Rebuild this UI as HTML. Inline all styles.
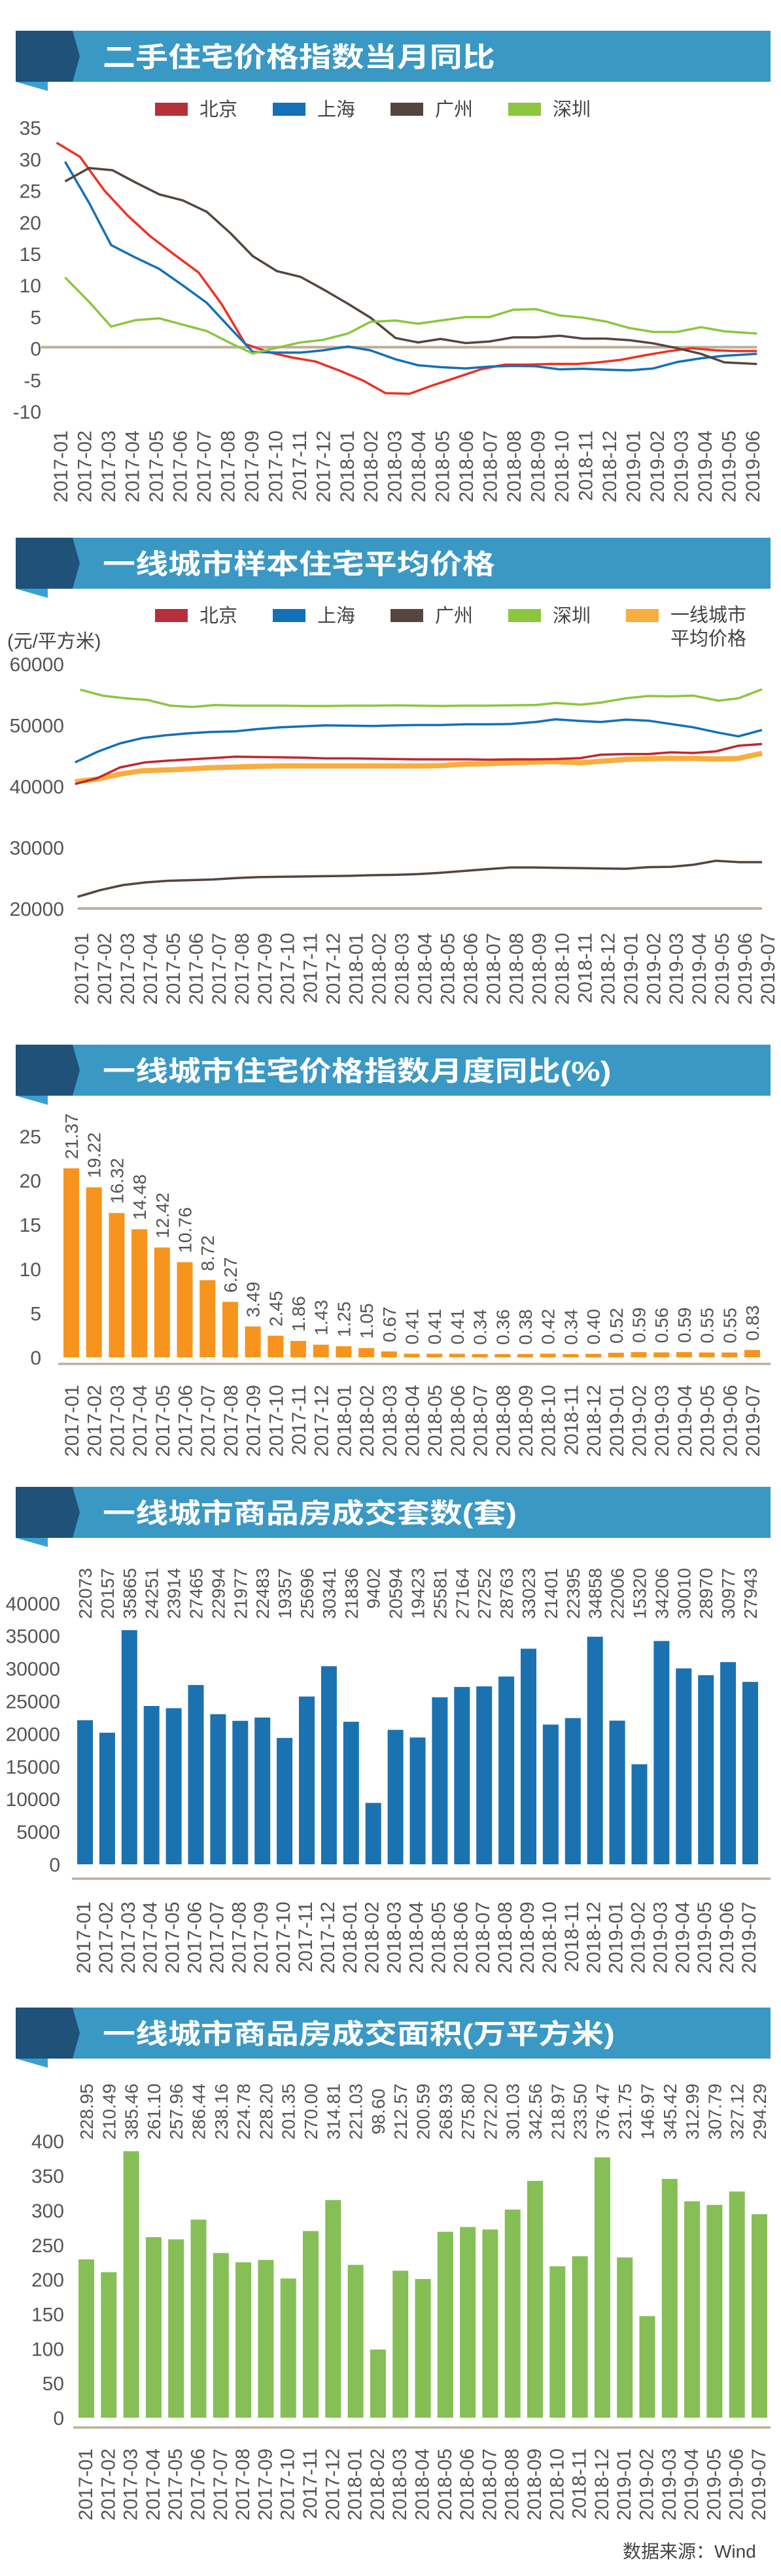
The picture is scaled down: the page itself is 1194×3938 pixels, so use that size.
<!DOCTYPE html>
<html><head><meta charset="utf-8"><style>
html,body{margin:0;padding:0;background:#fff;}
svg{display:block;}
text{font-family:"Liberation Sans","Noto Sans CJK SC",sans-serif;}
.xl{font-family:"Liberation Sans",sans-serif;font-size:30px;fill:#555;}
.vl{font-family:"Liberation Sans",sans-serif;font-size:28px;fill:#555;}
.tick{font-size:30px;fill:#555;}
.leg{font-size:29px;fill:#444;font-family:"Liberation Sans","Noto Sans CJK SC",sans-serif;}
.ttl{font-size:42px;font-weight:bold;fill:#fff;font-family:"Liberation Sans","Noto Sans CJK SC",sans-serif;}
</style></head><body>
<svg id="s" xmlns="http://www.w3.org/2000/svg" width="1194" height="3938" viewBox="0 0 1194 3938">
<g id="c1" transform="scale(0.7654,0.4847)" fill="none" stroke-linejoin="round">
<line x1="82" y1="1095" x2="1512" y2="1095" stroke="#bfae9c" stroke-width="4" vector-effect="non-scaling-stroke"/>
<polyline stroke="#ee3124" stroke-width="3.5" vector-effect="non-scaling-stroke" points="113,450 160,495 208,600 255,680 300,745 350,805 397,860 443,960 490,1085 540,1112 585,1128 630,1140 680,1170 725,1200 770,1240 818,1242 865,1215 913,1190 960,1165 1008,1150 1055,1150 1102,1148 1150,1148 1195,1143 1240,1135 1290,1120 1335,1108 1382,1098 1430,1105 1470,1107 1512,1107"/>
<polyline stroke="#1470b8" stroke-width="3.5" vector-effect="non-scaling-stroke" points="130,510 178,640 222,773 270,812 318,848 365,900 413,955 460,1035 505,1110 553,1112 600,1112 645,1105 695,1093 740,1105 790,1133 835,1152 880,1158 930,1162 978,1156 1025,1154 1070,1155 1118,1165 1165,1163 1210,1166 1258,1168 1305,1162 1352,1142 1400,1130 1447,1122 1512,1116"/>
<polyline stroke="#54463f" stroke-width="3.5" vector-effect="non-scaling-stroke" points="130,572 178,530 225,537 270,575 318,613 365,632 413,668 460,735 505,808 553,855 600,873 645,912 695,958 740,1002 790,1066 835,1080 880,1069 930,1082 978,1077 1025,1064 1070,1064 1118,1059 1165,1068 1210,1068 1258,1073 1305,1083 1352,1098 1400,1116 1447,1143 1512,1148"/>
<polyline stroke="#8cc63f" stroke-width="3.5" vector-effect="non-scaling-stroke" points="130,875 178,952 222,1030 270,1010 318,1004 365,1024 413,1044 460,1082 505,1115 553,1097 600,1080 645,1072 695,1052 740,1015 790,1011 835,1021 880,1011 930,1000 978,1000 1025,977 1070,975 1118,995 1165,1002 1210,1014 1258,1035 1305,1047 1352,1047 1400,1032 1447,1045 1512,1052"/>
</g>
<g transform="translate(0,760) scale(0.7654,0.510)" fill="none" stroke-linejoin="round">
<line x1="155" y1="1233" x2="1522" y2="1233" stroke="#bfae9c" stroke-width="4" vector-effect="non-scaling-stroke"/>
<polyline stroke="#8cc63f" stroke-width="3.5" vector-effect="non-scaling-stroke" points="160,577 205,595 250,603 295,608 340,625 385,629 430,623 475,625 520,625 565,625 610,626 655,626 700,625 745,625 790,624 835,625 880,626 930,625 975,625 1020,624 1070,623 1110,617 1160,622 1200,616 1250,603 1295,596 1340,597 1385,595 1435,610 1475,603 1522,576"/>
<polyline stroke="#1470b8" stroke-width="3.5" vector-effect="non-scaling-stroke" points="150,795 195,763 240,738 285,722 330,714 375,708 420,704 470,702 515,695 560,690 605,687 650,684 700,685 745,686 790,684 835,683 880,683 930,681 975,681 1020,680 1070,674 1110,666 1160,671 1200,674 1250,667 1295,670 1340,680 1385,690 1435,706 1475,717 1522,698"/>
<polyline stroke="#f9ad3f" stroke-width="8" vector-effect="non-scaling-stroke" points="150,853 195,845 240,830 285,820 330,818 375,815 420,811 470,809 515,807 560,806 605,806 650,806 700,806 745,806 790,806 835,806 880,805 930,800 975,799 1020,796 1065,794 1110,793 1160,796 1200,792 1250,786 1295,784 1340,783 1385,783 1430,785 1475,783 1522,768"/>
<polyline stroke="#c1272d" stroke-width="3.5" vector-effect="non-scaling-stroke" points="150,860 195,842 240,810 290,795 335,790 380,786 425,782 470,778 515,779 560,780 605,781 650,783 700,783 745,784 790,785 835,786 880,786 930,786 975,787 1020,786 1065,786 1110,785 1160,782 1200,772 1250,770 1295,770 1340,765 1385,767 1430,762 1475,745 1522,740"/>
<polyline stroke="#54463f" stroke-width="3.5" vector-effect="non-scaling-stroke" points="155,1198 200,1178 245,1163 290,1155 335,1150 380,1148 425,1146 470,1142 515,1139 560,1138 605,1137 650,1136 700,1135 745,1133 790,1132 835,1130 880,1126 930,1120 975,1115 1020,1110 1065,1110 1110,1111 1160,1112 1200,1113 1250,1114 1295,1109 1340,1108 1385,1102 1430,1090 1475,1094 1522,1094"/>
</g>
<g id="dyn"></g>
<text class="leg" x="11" y="990" fill="#555">(元/平方米)</text>
<text class="leg" x="1025" y="950">一线城市</text>
<text class="leg" x="1025" y="986">平均价格</text>
<text x="952" y="3910" font-size="28" fill="#444" font-family="Liberation Sans,Noto Sans CJK SC,sans-serif">数据来源：Wind</text>
</svg>
<script>
var NS="http://www.w3.org/2000/svg",g=document.getElementById("dyn");
function el(t,a,txt){var e=document.createElementNS(NS,t);for(var k in a)e.setAttribute(k,a[k]);if(txt!=null)e.textContent=txt;g.appendChild(e);return e;}
function banner(top,title){var B=top+78;
el("rect",{x:111,y:top,width:1067,height:78,fill:"#3a98c4"});
el("polygon",{points:"24,"+top+" 111,"+top+" 122,"+(top+39)+" 111,"+B+" 24,"+B,fill:"#1f5179"});
el("polygon",{points:"24,"+B+" 73,"+B+" 73,"+(B+14),fill:"#3aa0d0"});
el("text",{"class":"ttl",transform:"translate(157,"+(top+55)+") scale(1.19,1)"},title);}
banner(47,"二手住宅价格指数当月同比");
banner(822,"一线城市样本住宅平均价格");
banner(1597,"一线城市住宅价格指数月度同比(%)");
banner(2273,"一线城市商品房成交套数(套)");
banner(3069,"一线城市商品房成交面积(万平方米)");
function legend(y,items){items.forEach(function(it,i){var x=237+180*i;el("rect",{x:x,y:y-10,width:50,height:20,fill:it[1]});if(it[0])el("text",{"class":"leg",x:x+68,y:y+10},it[0]);});}
legend(167,[["北京","#b5303a"],["上海","#1470b8"],["广州","#54463f"],["深圳","#8cc63f"]]);
legend(941,[["北京","#b5303a"],["上海","#1470b8"],["广州","#54463f"],["深圳","#8cc63f"],["","#f9ad3f"]]);
function months(n){var r=[];for(var i=0;i<n;i++){var y=2017+Math.floor(i/12),m=i%12+1;r.push(y+"-"+(m<10?"0":"")+m);}return r;}
// c = label visual center x of first label
function xlabels(n,c,dx,ytop){months(n).forEach(function(s,i){var x=c+dx*i+11;el("text",{"class":"xl",transform:"translate("+x+","+ytop+") rotate(-90)","text-anchor":"end"},s);});}
function ticks(vals,xr,yf){vals.forEach(function(v){el("text",{"class":"tick",x:xr,y:yf(v)+11,"text-anchor":"end"},String(v));});}
// chart1
ticks([35,30,25,20,15,10,5,0,-5,-10],63,function(v){return 532.6-v*9.64;});
xlabels(30,92,36.48,658);
// chart2
ticks([60000,50000,40000,30000],98,function(v){return 1389-(v-20000)*0.00935;});
el("text",{"class":"tick",x:98,y:1400,"text-anchor":"end"},"20000");
xlabels(31,124,34.97,1426);
function bars(vals,x0,dx,base,sc,col,fmt,lab,lineY,lc,ytop,tickv,xr,labMode){
 el("line",{x1:x0-20,y1:lineY,x2:1178,y2:lineY,stroke:"#bfae9c","stroke-width":3.5});
 vals.forEach(function(v,i){var cx=x0+dx*i,h=Math.max(v*sc,5);el("rect",{x:cx-12,y:base-h,width:24,height:h,fill:col});
  var s=fmt(v),x=cx+10;
  if(labMode==="above")el("text",{"class":"vl",transform:"translate("+x+","+(base-h-14)+") rotate(-90)"},s);
  else el("text",{"class":"vl",transform:"translate("+x+","+lab+") rotate(-90)","text-anchor":labMode},s);});
 xlabels(vals.length,lc,dx,ytop);
 ticks(tickv,xr,function(v){return base-v*sc;});}
bars([21.37,19.22,16.32,14.48,12.42,10.76,8.72,6.27,3.49,2.45,1.86,1.43,1.25,1.05,0.67,0.41,0.41,0.41,0.34,0.36,0.38,0.42,0.34,0.40,0.52,0.59,0.56,0.59,0.55,0.55,0.83],
 109,34.7,2075,13.52,"#f7941d",function(v){return v.toFixed(2);},0,2085,109,2117,[25,20,15,10,5,0],63,"above");
bars([22073,20157,35865,24251,23914,27465,22994,21977,22483,19357,25696,30341,21836,9402,20594,19423,25581,27164,27252,28763,33023,21401,22395,34858,22006,15320,34206,30010,28970,30977,27943],
 130,33.9,2850,0.00998,"#1b72b1",function(v){return String(v);},2397,2872,127,2907,[40000,35000,30000,25000,20000,15000,10000,5000,0],92,"end");
bars([228.95,210.49,385.46,261.10,257.96,286.44,238.16,224.78,228.20,201.35,270.00,314.81,221.03,98.60,212.57,200.59,268.93,275.80,272.20,301.03,342.56,218.97,233.50,376.47,231.75,146.97,345.42,312.99,307.79,327.12,294.29],
 132,34.3,3696,1.057,"#86bf56",function(v){return v.toFixed(2);},3228,3711,130,3743,[400,350,300,250,200,150,100,50,0],98,"middle");
</script>
</body></html>
